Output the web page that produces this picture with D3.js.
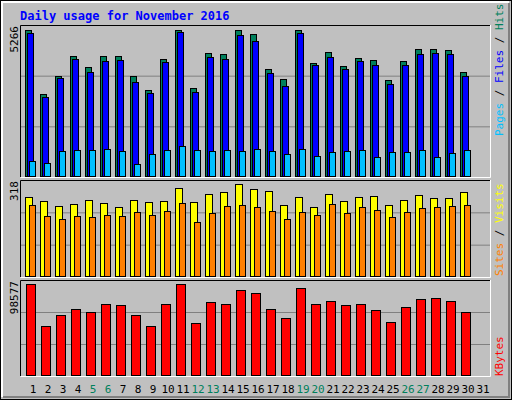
<!DOCTYPE html>
<html><head><meta charset="utf-8">
<script src="https://cdn.jsdelivr.net/npm/d3@7"></script>
<style>body{margin:0;background:#fff}svg{display:block}</style></head>
<body><svg id="c" width="512" height="400"></svg>
<script>
const days = d3.range(1, 32);
const weekendDays = [5,6,12,13,19,20,26,27];
const hits  = [5266,2967,3614,4332,3915,4332,4332,3592,3089,4203,5266,3161,4418,4382,5244,5101,3843,3484,5266,4059,4454,3951,4239,4167,3448,4131,4562,4562,4526,3736];
const files = [5137,2859,3520,4203,3736,4131,4167,3377,2981,4095,5172,3017,4275,4203,5065,4849,3700,3233,5137,3987,4275,3843,4131,3987,3305,3987,4382,4418,4382,3592];
const pages = [539,467,898,934,934,970,898,431,790,934,1078,934,898,934,898,970,898,790,970,718,862,898,934,682,862,862,934,682,826,934];
const visits= [273,259,242,249,263,252,238,263,256,259,304,256,283,290,318,301,294,245,273,238,283,259,273,276,245,263,280,270,270,290];
const sites = [245,207,197,207,204,211,207,221,211,225,252,187,218,242,245,238,225,197,221,211,249,218,238,228,204,221,235,238,242,245];
const kbytes= [98577,53082,64998,71498,68248,76914,75831,64998,53082,76914,98577,56332,79081,76914,92081,88831,71498,61748,94247,76914,80164,75831,76914,70415,57415,73664,82331,83414,80164,68248];
const maxHits = 5266, maxVisits = 318, maxKB = 98577;

const svg = d3.select('#c');
const font = "'DejaVu Sans Mono', monospace";
// background + bevel
svg.append('rect').attr('x',0).attr('y',0).attr('width',512).attr('height',400).attr('fill','#c0c0c0');
svg.append('rect').attr('x',0.5).attr('y',0.5).attr('width',511).attr('height',399).attr('fill','none').attr('stroke','#000');
svg.append('path').attr('d','M2,397V2H509').attr('fill','none').attr('stroke','#fff').attr('stroke-width',2);
svg.append('path').attr('d','M3,397H509V3').attr('fill','none').attr('stroke','#808080').attr('stroke-width',2);

svg.append('text').attr('x',20).attr('y',20).attr('fill','#0000ff').attr('font-family',font)
  .attr('font-weight','bold').attr('font-size',12).text('Daily usage for November 2016');

const x = d3.scaleBand().domain(days).range([21,486]).paddingInner(0);
// each band = 15px
const panels = [
 {top:25, bot:177, max:maxHits, yTop:29.7},
 {top:180, bot:277, max:maxVisits, yTop:184.3},
 {top:280, bot:376, max:maxKB, yTop:284.3}
];
function panelFrame(p){
  svg.append('path').attr('d',`M20.5,${p.bot}V${p.top+0.5}H490`).attr('stroke','#000').attr('fill','none');
  svg.append('path').attr('d',`M20.5,${p.bot+0.5}H490.5V${p.top}`).attr('stroke','#fff').attr('fill','none');
  const h=(p.bot-p.top)/3;
  [1,2].forEach(i=>svg.append('line').attr('x1',21).attr('x2',490).attr('y1',p.top+h*i+0.5).attr('y2',p.top+h*i+0.5).attr('stroke','#808080'));
}
panels.forEach(panelFrame);

function bars(data, p, off, w, color){
  const y = d3.scaleLinear().domain([0,p.max]).range([p.bot-0.7, p.yTop]);
  svg.append('g').selectAll('rect').data(data).join('rect')
    .attr('x',(d,i)=>Math.round(x(days[i])+off)+0.5).attr('width',w)
    .attr('y',d=>Math.round(y(d))+0.5).attr('height',d=>Math.max(0,Math.round(y(0))-Math.round(y(d))))
    .attr('fill',color).attr('stroke','#000');
}
bars(hits, panels[0], 4, 6, '#00805c');
bars(files, panels[0], 6, 6, '#0000ff');
bars(pages, panels[0], 8, 6, '#00c0ff');
bars(visits, panels[1], 4, 7, '#ffff00');
bars(sites, panels[1], 8, 6, '#ff8000');
bars(kbytes, panels[2], 5, 9, '#ff0000');

// day labels
svg.append('g').selectAll('text').data(days).join('text')
  .attr('x',d=>x(d)+12).attr('y',393).attr('text-anchor','middle').attr('font-family',font).attr('font-size',11)
  .attr('fill',d=>weekendDays.includes(d)?'#00805c':'#000').text(d=>d);

// left max labels
[[maxHits,26],[maxVisits,181],[maxKB,281]].forEach(([v,yy])=>{
  svg.append('text').attr('transform',`translate(18,${yy}) rotate(-90)`).attr('text-anchor','end')
    .attr('font-family',font).attr('font-size',11).attr('fill','#000').text(v);
});
// right legends
function legend(parts, yBottom){
  const t = svg.append('text').attr('transform',`translate(503,${yBottom}) rotate(-90)`)
    .attr('font-family',font).attr('font-size',11);
  parts.forEach(([s,c])=>t.append('tspan').attr('fill',c).text(s));
}
legend([['Pages','#00c0ff'],[' / ','#000'],['Files','#0000ff'],[' / ','#000'],['Hits','#00805c']],136);
legend([['Sites','#ff8000'],[' / ','#000'],['Visits','#ffff00']],276);
legend([['KBytes','#ff0000']],376);
</script></body></html>
